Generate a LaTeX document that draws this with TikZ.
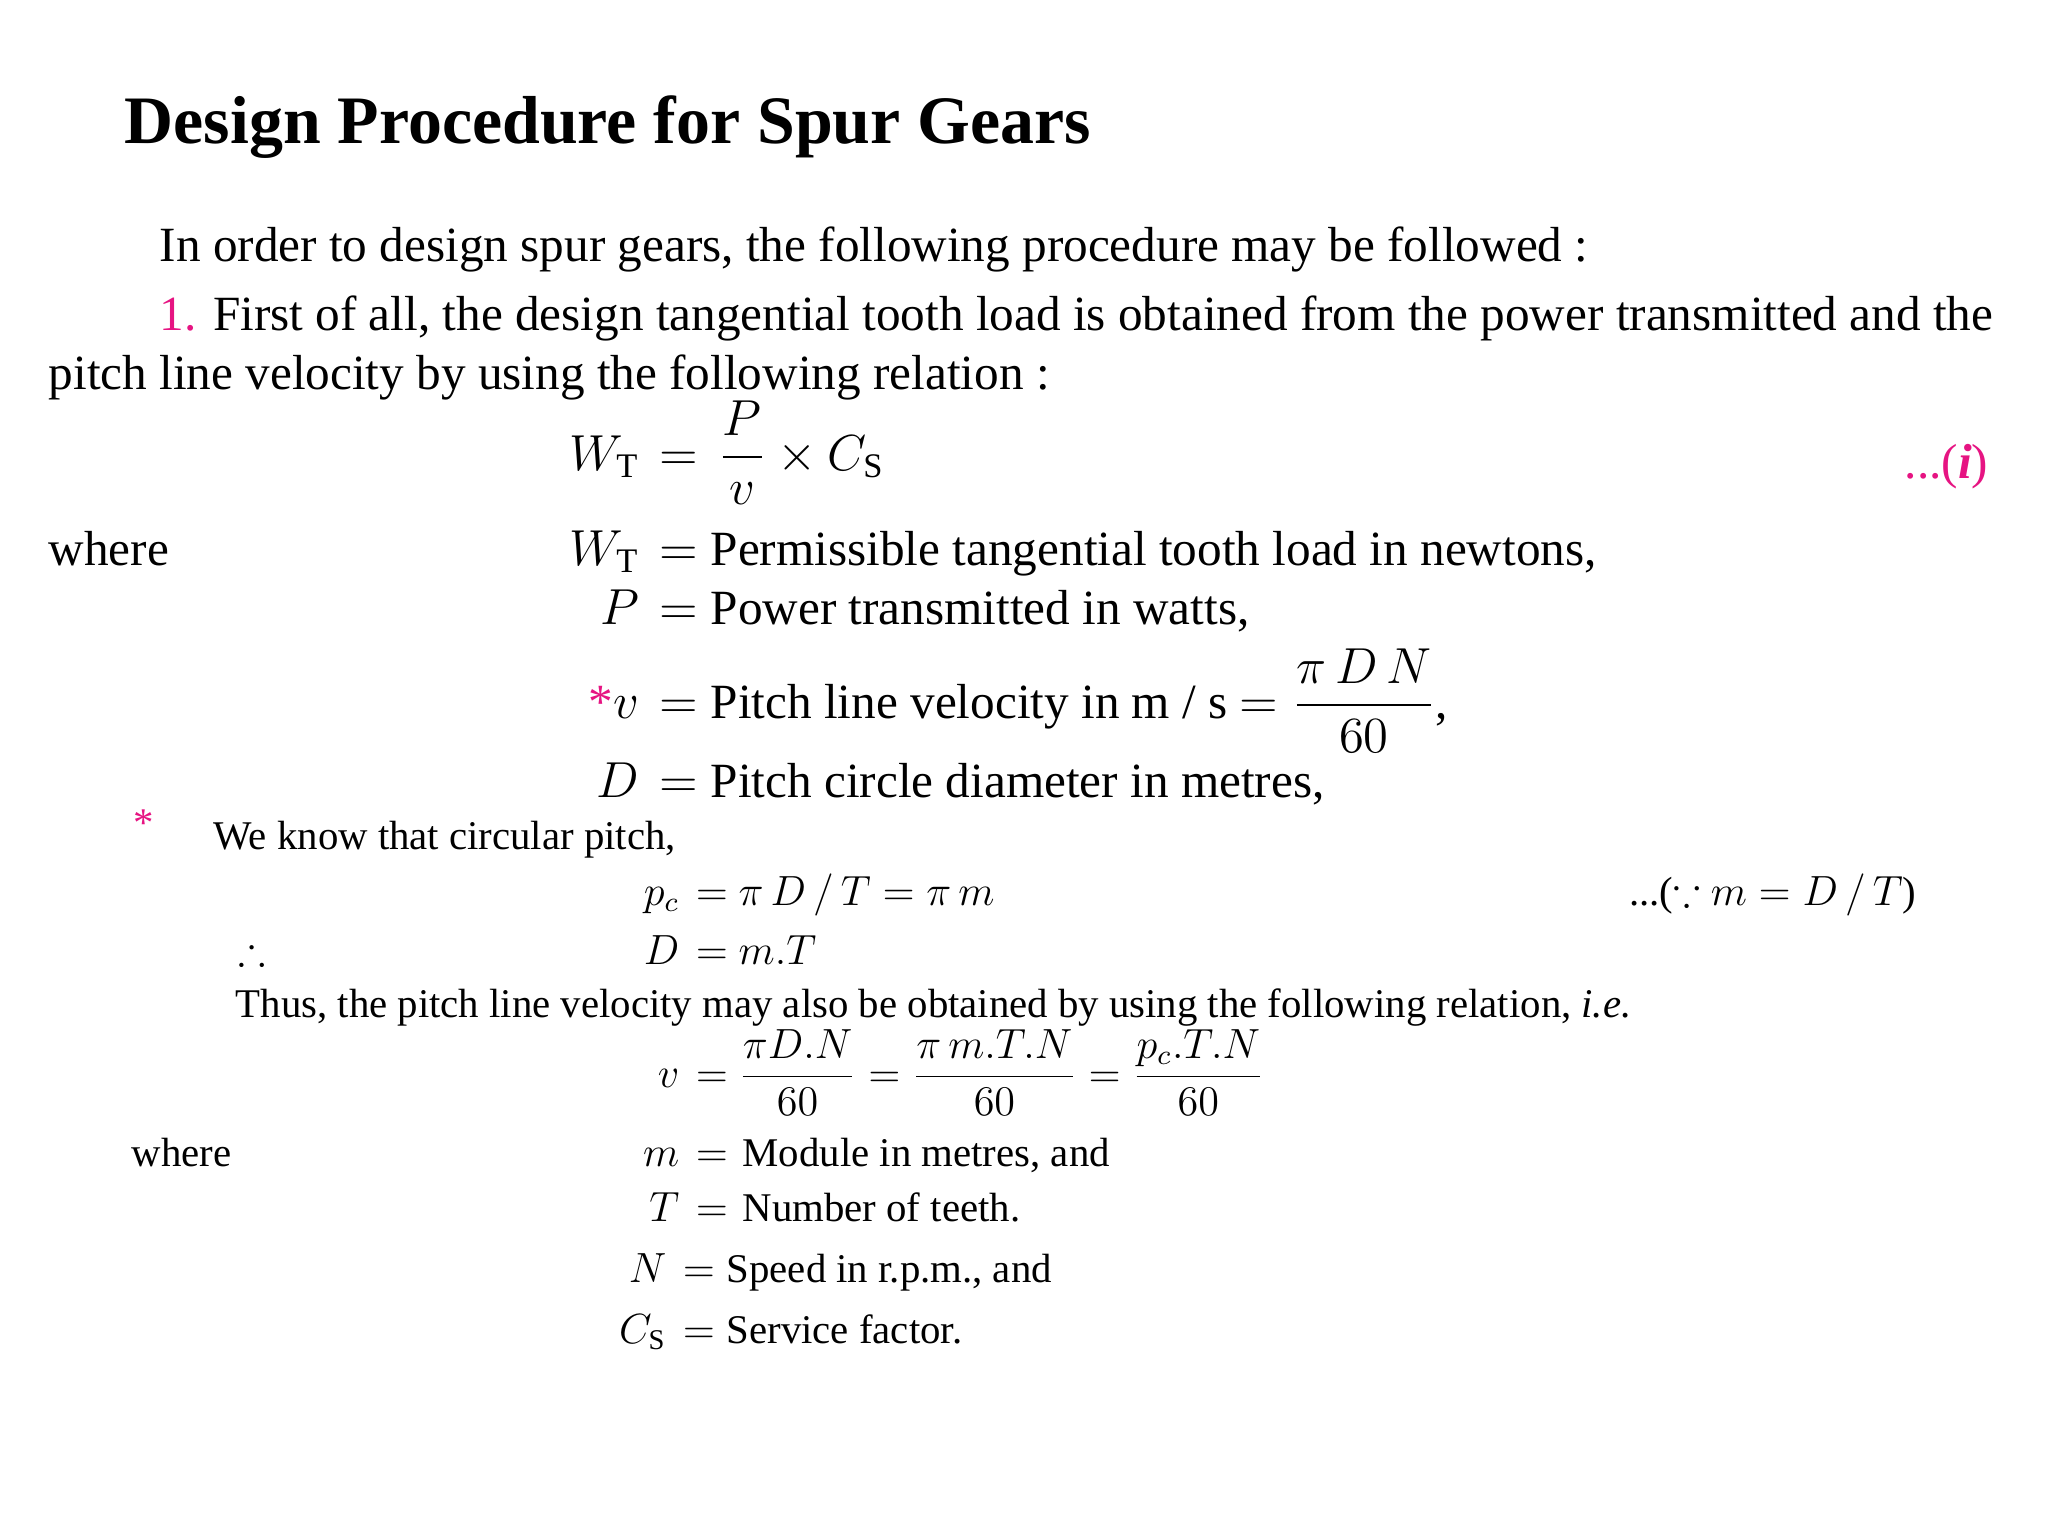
\documentclass[tikz,border=0pt]{standalone}
\usepackage{amsmath,amssymb}
\usepackage{fontspec}
\setmainfont{Liberation Serif}
\definecolor{mag}{RGB}{230,20,130}
\begin{document}
\begin{tikzpicture}[x=0.01cm,y=-0.01cm,
  tx/.style={anchor=base west,inner sep=0,font=\fontsize{14}{16}\selectfont},
  sx/.style={anchor=base west,inner sep=0,font=\fontsize{11.6}{13}\selectfont},
  eq/.style={anchor=base,inner sep=0,font=\fontsize{14}{16}\selectfont},
  L/.style={anchor=base east,inner sep=0,font=\fontsize{14}{16}\selectfont},
  R/.style={anchor=base west,inner sep=0,font=\fontsize{14}{16}\selectfont},
  seq/.style={anchor=base,inner sep=0,font=\fontsize{11.6}{13}\selectfont},
  sL/.style={anchor=base east,inner sep=0,font=\fontsize{11.6}{13}\selectfont},
  sR/.style={anchor=base west,inner sep=0,font=\fontsize{11.6}{13}\selectfont}]
\useasboundingbox (0,0) rectangle (2048,1536);
\node[anchor=base west,inner sep=0,font=\bfseries\fontsize{19.3}{22}\selectfont] (title) at (124,143) {Design Procedure for Spur Gears};
\node[tx] (intro) at (159,261) {In order to design spur gears, the following procedure may be followed :};
\node[tx] (s1) at (159,330) {\textcolor{mag}{1.} First of all, the design tangential tooth load is obtained from the power transmitted and the};
\node[tx] (s1b) at (48,389) {pitch line velocity by using the following relation :};
% eq (i)
\node[eq] (e1) at (679,470) {$=$};
\node[L] at (640,470) {$W_{\mathrm{T}}$};
\node[R] at (718,470) {$\dfrac{P}{v}\times C_{\mathrm{S}}$};
\node[anchor=base east,inner sep=0,text=mag,font=\fontsize{14}{16}\selectfont] (i) at (1989,478) {...(\textit{\textbf{i}})};
% where
\node[tx] (w1) at (48,565) {where};
\node[eq] at (679,565) {$=$};
\node[L] at (640,565) {$W_{\mathrm{T}}$};
\node[R] at (710,565) {Permissible tangential tooth load in newtons,};
\node[eq] at (679,624) {$=$};
\node[L] at (640,624) {$P$};
\node[R] at (710,624) {Power transmitted in watts,};
\node[eq] at (679,718) {$=$};
\node[L] at (640,718) {\textcolor{mag}{*}$v$};
\node[R] at (710,718) {Pitch line velocity in m / s $=\dfrac{\pi\, D\, N}{60}$,};
\node[eq] at (679,797) {$=$};
\node[L] at (640,797) {$D$};
\node[R] at (710,797) {Pitch circle diameter in metres,};
% footnote
\node[sx,text=mag] (st) at (133,836) {*};
\node[sx] (know) at (213,849) {We know that circular pitch,};
\node[seq] at (712,905) {$=$};
\node[sL] at (680,905) {$p_c$};
\node[sR] at (738,905) {$\pi\, D\,/\,T=\pi\, m$};
\node[sL] (because) at (1917,905) {...($\because$ $m=D\,/\,T$)};
\node[sx] (therefore) at (238,964) {$\therefore$};
\node[seq] at (712,964) {$=$};
\node[sL] at (680,964) {$D$};
\node[sR] at (738,964) {$m.T$};
\node[sx] (thus) at (235,1017) {Thus, the pitch line velocity may also be obtained by using the following relation, \textit{i.e.}};
\node[seq] at (712,1087) {$=$};
\node[sL] at (680,1087) {$v$};
\node[sR] at (738,1087) {$\dfrac{\pi D.N}{60}=\dfrac{\pi\, m.T.N}{60}=\dfrac{p_c.T.N}{60}$};
\node[sx] (w2) at (131,1166) {where};
\node[seq] at (712,1166) {$=$};
\node[sL] at (680,1166) {$m$};
\node[sR] at (742,1166) {Module in metres, and};
\node[seq] at (712,1221) {$=$};
\node[sL] at (680,1221) {$T$};
\node[sR] at (742,1221) {Number of teeth.};
\node[seq] at (699,1282) {$=$};
\node[sL] at (667,1282) {$N$};
\node[sR] at (726,1282) {Speed in r.p.m., and};
\node[seq] at (699,1343) {$=$};
\node[sL] at (667,1343) {$C_{\mathrm{S}}$};
\node[sR] at (726,1343) {Service factor.};
\end{tikzpicture}
\end{document}
